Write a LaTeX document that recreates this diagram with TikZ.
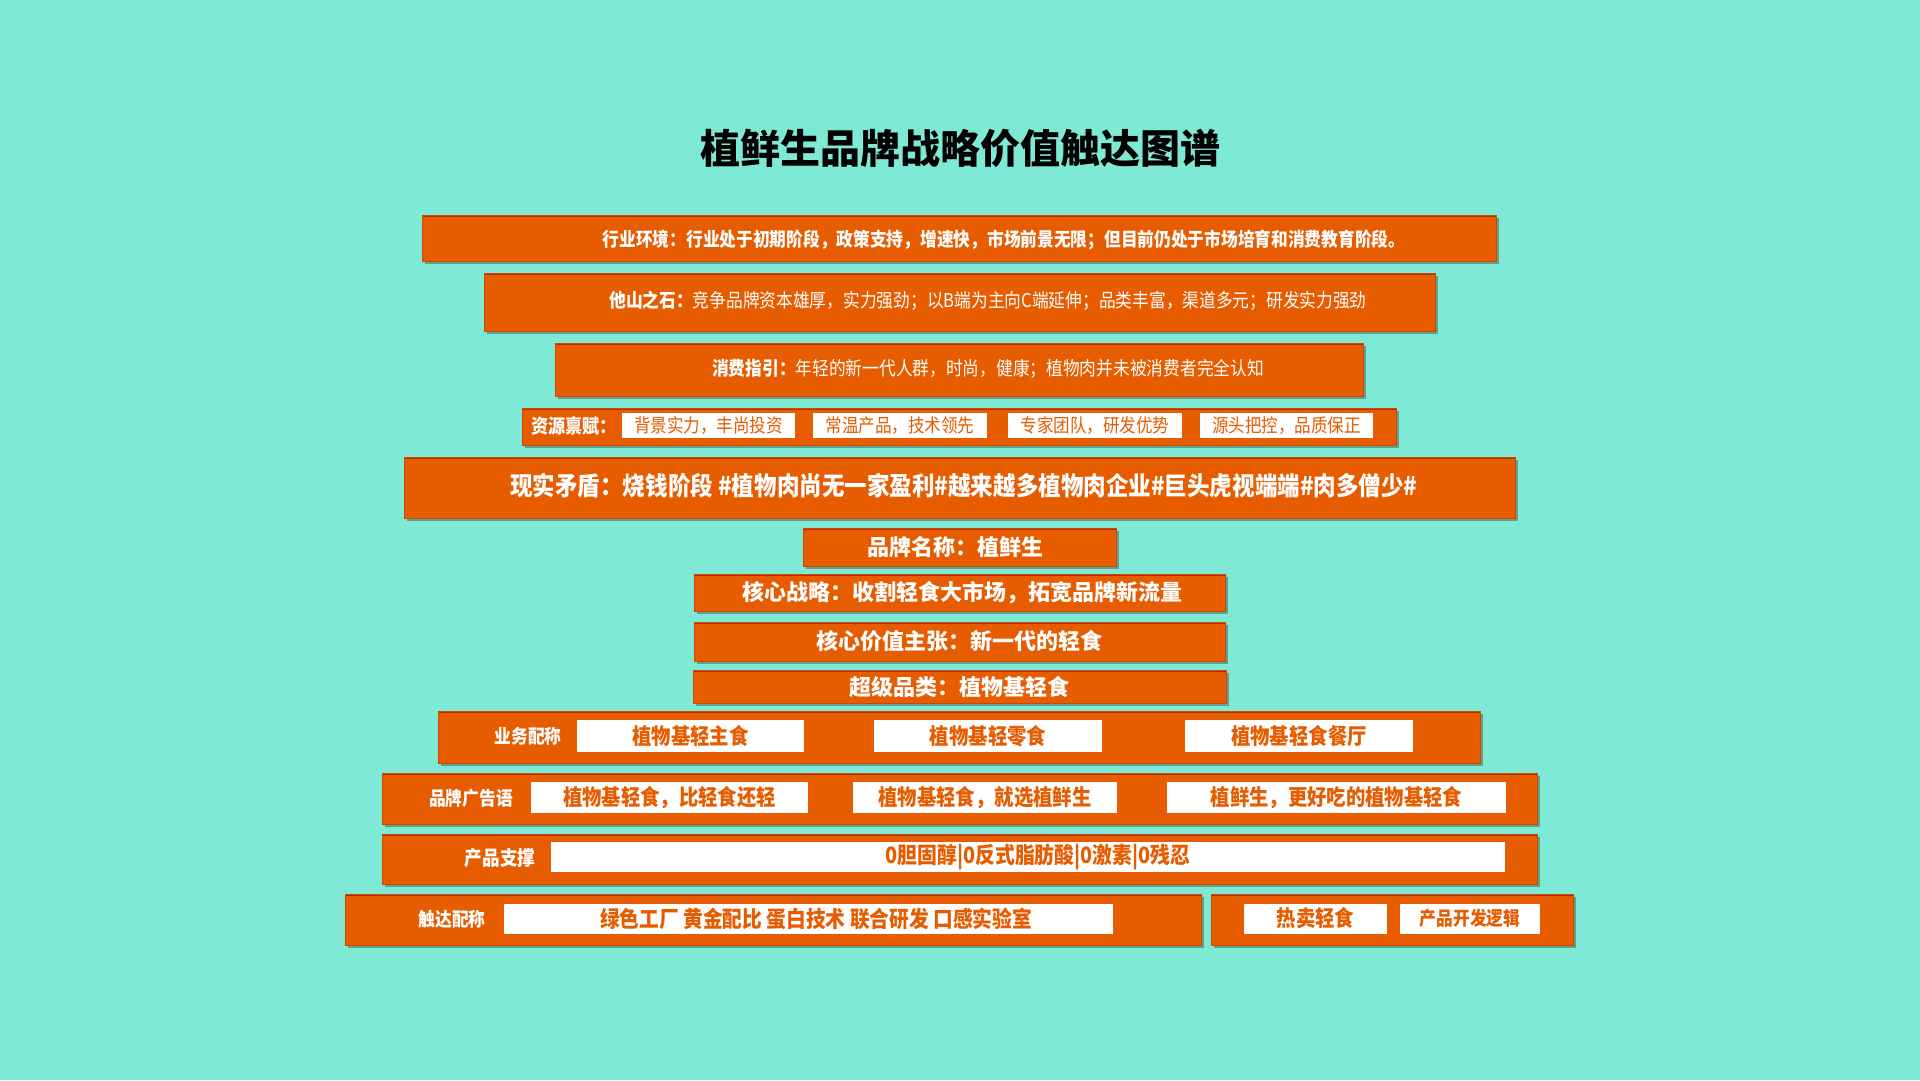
\documentclass[tikz,border=0pt]{standalone}
\usepackage{fontspec}
\setmainfont{Noto Sans CJK SC}
\newfontfamily\cjkc[FakeStretch=0.88]{Noto Sans CJK SC}
\usetikzlibrary{shadows}
\definecolor{bgc}{RGB}{126,234,214}
\definecolor{orc}{RGB}{232,92,0}
\definecolor{ordk}{RGB}{205,72,0}
\definecolor{ordkk}{RGB}{176,48,0}
\definecolor{shc}{RGB}{96,160,140}
\tikzset{
  obox/.style={fill=orc, draw=ordk, line width=1pt, inner sep=0pt,
    drop shadow={shadow xshift=2.5pt, shadow yshift=-3pt, fill=shc, opacity=1},
    path picture={\draw[ordkk, line width=4pt] (path picture bounding box.north west) -- (path picture bounding box.north east);}},
  wbox/.style={fill=white, draw=none, inner sep=0pt},
  wtxt/.style={text=white, inner sep=0pt},
  otxt/.style={text=orc, inner sep=0pt, font=\cjkc\bfseries\fontsize{22}{26}\selectfont},
  lbl/.style={text=white, inner sep=0pt, font=\cjkc\bfseries\fontsize{19}{22}\selectfont},
  mid/.style={text=white, inner sep=0pt, font=\bfseries\fontsize{22}{26}\selectfont},
}
\begin{document}
\begin{tikzpicture}[x=1pt,y=-1pt]
\fill[bgc] (0,0) rectangle (1920,1080);
\useasboundingbox (0,0) rectangle (1920,1080);

\node[inner sep=0pt, font=\bfseries\fontsize{40}{46}\selectfont] (title) at (960,148) {植鲜生品牌战略价值触达图谱};

% row 1
\node[obox, minimum width=1074pt, minimum height=46pt] (r1) at (959,238) {};
\node[wtxt, font=\cjkc\bfseries\fontsize{19}{22}\selectfont] (t1) at (1004,240) {行业环境：行业处于初期阶段，政策支持，增速快，市场前景无限；但目前仍处于市场培育和消费教育阶段。};
% row 2
\node[obox, minimum width=951pt, minimum height=58pt] (r2) at (959.5,302) {};
\node[wtxt, font=\cjkc\fontsize{19}{22}\selectfont] (t2) at (988,301) {\textbf{他山之石：}竞争品牌资本雄厚，实力强劲；以B端为主向C端延伸；品类丰富，渠道多元；研发实力强劲};
% row 3
\node[obox, minimum width=808pt, minimum height=53pt] (r3) at (959,369.5) {};
\node[wtxt, font=\cjkc\fontsize{19}{22}\selectfont] (t3) at (988,369) {\textbf{消费指引：}年轻的新一代人群，时尚，健康；植物肉并未被消费者完全认知};
% row 4
\node[obox, minimum width=874pt, minimum height=37pt] (r4) at (959,426.5) {};
\node[wtxt, font=\cjkc\bfseries\fontsize{19.5}{22}\selectfont] (l4) at (574,426) {资源禀赋：};
\node[wbox, minimum width=173pt, minimum height=25pt] (b41) at (708.5,425.5) {};
\node[wbox, minimum width=174pt, minimum height=25pt] (b42) at (900,425.5) {};
\node[wbox, minimum width=174pt, minimum height=25pt] (b43) at (1095,425.5) {};
\node[wbox, minimum width=173pt, minimum height=25pt] (b44) at (1286.5,425.5) {};
\foreach \n/\t in {b41/背景实力，丰尚投资, b42/常温产品，技术领先, b43/专家团队，研发优势, b44/源头把控，品质保正}
  \node[text=orc, inner sep=0pt, font=\cjkc\fontsize{18.8}{21}\selectfont] at (\n) {\t};
% row 5
\node[obox, minimum width=1111pt, minimum height=61pt] (r5) at (959.5,487.5) {};
\node[wtxt, font=\cjkc\bfseries\fontsize{25.6}{30}\selectfont] (t5) at (964,486) {现实矛盾：烧钱阶段 \#植物肉尚无一家盈利\#越来越多植物肉企业\#巨头虎视端端\#肉多僧少\#};
% rows 6-9
\node[obox, minimum width=313pt, minimum height=38pt] (r6) at (959.5,547) {};
\node[mid] (t6) at (955,547) {品牌名称：植鲜生};
\node[obox, minimum width=531pt, minimum height=37pt] (r7) at (959.5,592.5) {};
\node[mid] (t7) at (962,592.5) {核心战略：收割轻食大市场，拓宽品牌新流量};
\node[obox, minimum width=531pt, minimum height=39pt] (r8) at (959.5,641.5) {};
\node[mid] (t8) at (r8) {核心价值主张：新一代的轻食};
\node[obox, minimum width=533pt, minimum height=33pt] (r9) at (959.5,686.5) {};
\node[mid] (t9) at (r9) {超级品类：植物基轻食};
% row 10
\node[obox, minimum width=1042pt, minimum height=52pt] (r10) at (959,737) {};
\node[lbl] (l10) at (528,736) {业务配称};
\node[wbox, minimum width=227pt, minimum height=32pt] (b101) at (690.5,736) {};
\node[wbox, minimum width=228pt, minimum height=32pt] (b102) at (988,736) {};
\node[wbox, minimum width=228pt, minimum height=32pt] (b103) at (1299,736) {};
\node[otxt] at (b101) {植物基轻主食};
\node[otxt] at (b102) {植物基轻零食};
\node[otxt] at (b103) {植物基轻食餐厅};
% row 11
\node[obox, minimum width=1155pt, minimum height=51pt] (r11) at (959.5,798.5) {};
\node[lbl] (l11) at (471,798) {品牌广告语};
\node[wbox, minimum width=277pt, minimum height=31pt] (b111) at (669.5,797.5) {};
\node[wbox, minimum width=264pt, minimum height=31pt] (b112) at (985,797.5) {};
\node[wbox, minimum width=339pt, minimum height=31pt] (b113) at (1336.5,797.5) {};
\node[otxt] at (b111) {植物基轻食，比轻食还轻};
\node[otxt] at (b112) {植物基轻食，就选植鲜生};
\node[otxt] at (b113) {植鲜生，更好吃的植物基轻食};
% row 12
\node[obox, minimum width=1155pt, minimum height=50pt] (r12) at (959.5,859) {};
\node[lbl, font=\cjkc\bfseries\fontsize{20}{23}\selectfont] (l12) at (500,858) {产品支撑};
\node[wbox, minimum width=954pt, minimum height=30pt] (b12) at (1028,857) {};
\node[otxt, font=\cjkc\bfseries\fontsize{22.5}{26}\selectfont] at (1038,857) {0胆固醇|0反式脂肪酸|0激素|0残忍};
% row 13
\node[obox, minimum width=856pt, minimum height=51pt] (r13a) at (773,919.5) {};
\node[lbl] (l13) at (452,919) {触达配称};
\node[wbox, minimum width=609pt, minimum height=30pt] (b13) at (808.5,919) {};
\node[otxt, font=\cjkc\bfseries\fontsize{22.4}{26}\selectfont] at (816,919) {绿色工厂 黄金配比 蛋白技术 联合研发 口感实验室};
\node[obox, minimum width=362pt, minimum height=51pt] (r13b) at (1392,919.5) {};
\node[wbox, minimum width=143pt, minimum height=30pt] (b131) at (1315.5,918.5) {};
\node[wbox, minimum width=140pt, minimum height=30pt] (b132) at (1470,918.5) {};
\node[otxt] at (b131) {热卖轻食};
\node[otxt, font=\cjkc\bfseries\fontsize{19}{22}\selectfont] at (b132) {产品开发逻辑};
\end{tikzpicture}
\end{document}
